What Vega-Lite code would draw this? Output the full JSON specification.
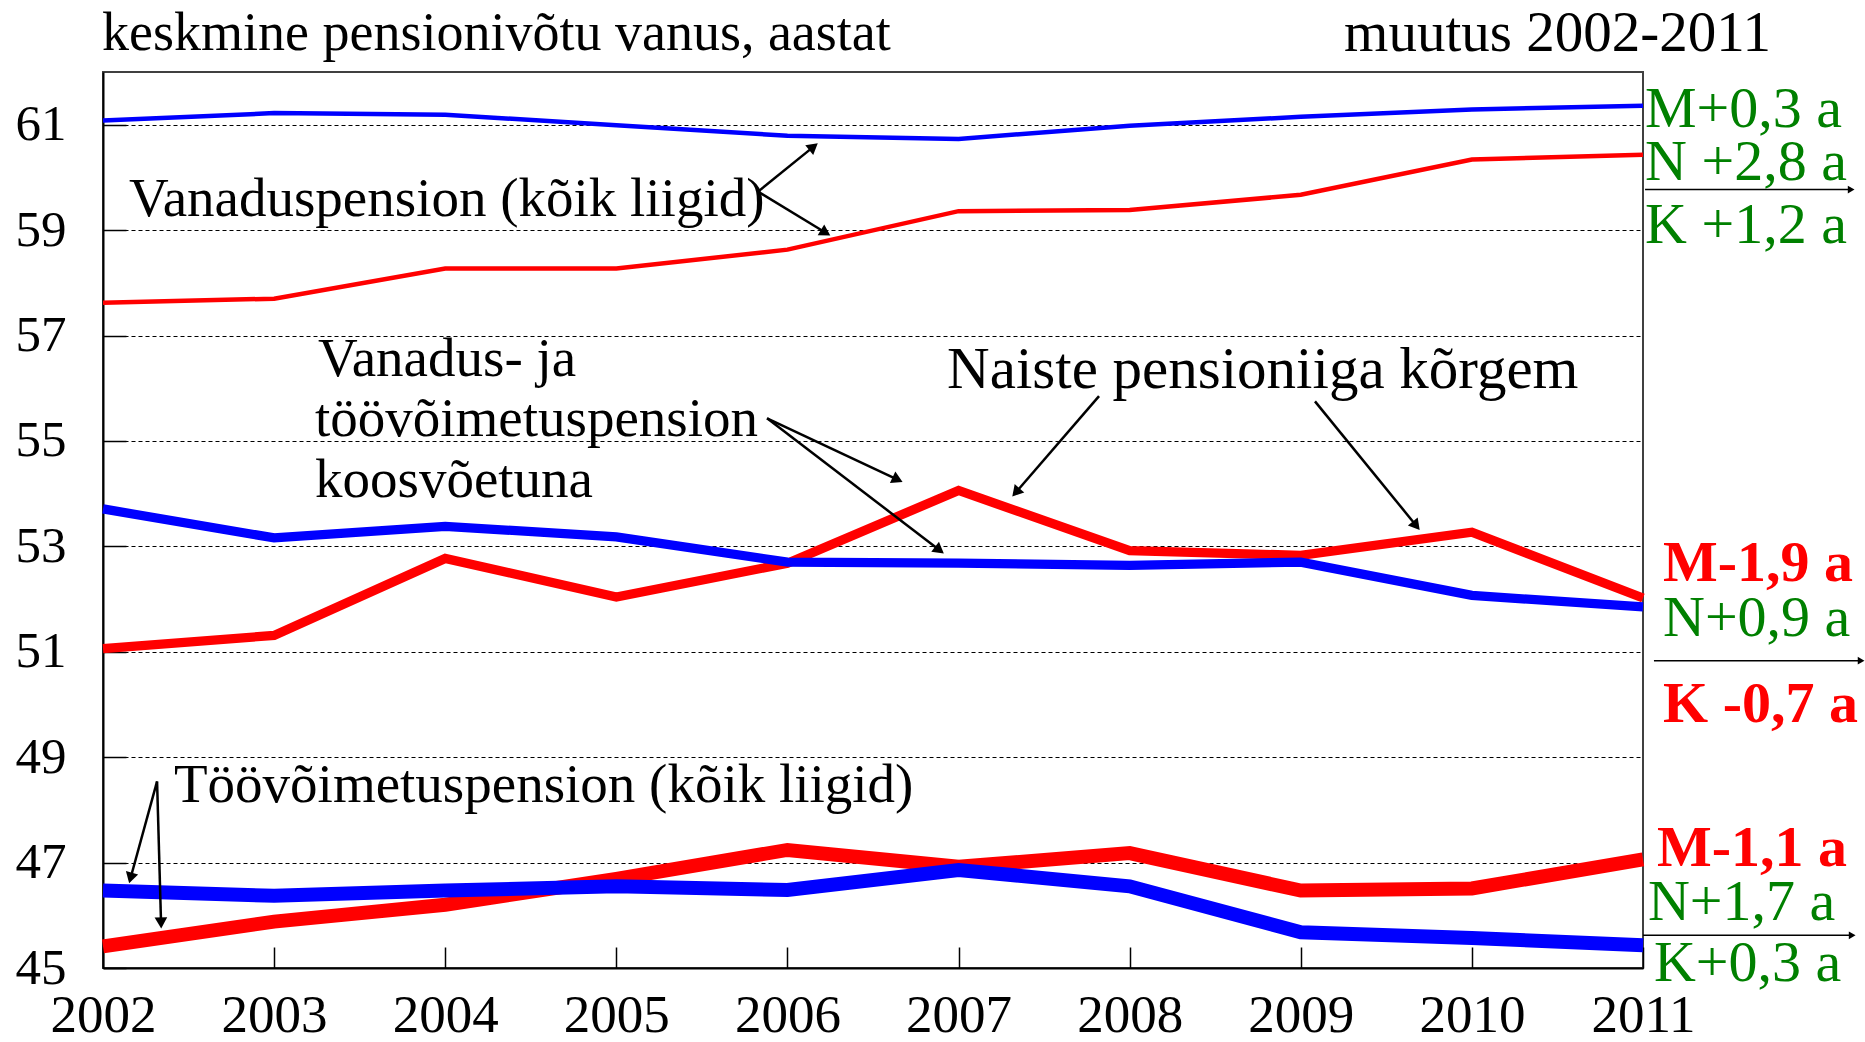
{
  "$schema": "https://vega.github.io/schema/vega-lite/v6.json",
  "width": 1540,
  "height": 896,
  "autosize": {"type": "none"},
  "padding": {"left": 103, "top": 72, "right": 222, "bottom": 74},
  "background": "white",
  "config": {
    "view": {"stroke": "#404040", "strokeWidth": 2},
    "font": "Liberation Serif",
    "text": {"font": "Liberation Serif"}
  },
  "datasets": {
    "series": [
      {"year": 2002, "age": 61.08, "pension": "vana", "sex": "M"},
      {"year": 2003, "age": 61.22, "pension": "vana", "sex": "M"},
      {"year": 2004, "age": 61.19, "pension": "vana", "sex": "M"},
      {"year": 2005, "age": 60.99, "pension": "vana", "sex": "M"},
      {"year": 2006, "age": 60.79, "pension": "vana", "sex": "M"},
      {"year": 2007, "age": 60.73, "pension": "vana", "sex": "M"},
      {"year": 2008, "age": 60.98, "pension": "vana", "sex": "M"},
      {"year": 2009, "age": 61.15, "pension": "vana", "sex": "M"},
      {"year": 2010, "age": 61.29, "pension": "vana", "sex": "M"},
      {"year": 2011, "age": 61.36, "pension": "vana", "sex": "M"},
      {"year": 2002, "age": 57.62, "pension": "vana", "sex": "N"},
      {"year": 2003, "age": 57.70, "pension": "vana", "sex": "N"},
      {"year": 2004, "age": 58.27, "pension": "vana", "sex": "N"},
      {"year": 2005, "age": 58.27, "pension": "vana", "sex": "N"},
      {"year": 2006, "age": 58.63, "pension": "vana", "sex": "N"},
      {"year": 2007, "age": 59.36, "pension": "vana", "sex": "N"},
      {"year": 2008, "age": 59.38, "pension": "vana", "sex": "N"},
      {"year": 2009, "age": 59.67, "pension": "vana", "sex": "N"},
      {"year": 2010, "age": 60.34, "pension": "vana", "sex": "N"},
      {"year": 2011, "age": 60.43, "pension": "vana", "sex": "N"},
      {"year": 2002, "age": 53.71, "pension": "koos", "sex": "M"},
      {"year": 2003, "age": 53.16, "pension": "koos", "sex": "M"},
      {"year": 2004, "age": 53.38, "pension": "koos", "sex": "M"},
      {"year": 2005, "age": 53.18, "pension": "koos", "sex": "M"},
      {"year": 2006, "age": 52.70, "pension": "koos", "sex": "M"},
      {"year": 2007, "age": 52.68, "pension": "koos", "sex": "M"},
      {"year": 2008, "age": 52.64, "pension": "koos", "sex": "M"},
      {"year": 2009, "age": 52.70, "pension": "koos", "sex": "M"},
      {"year": 2010, "age": 52.07, "pension": "koos", "sex": "M"},
      {"year": 2011, "age": 51.85, "pension": "koos", "sex": "M"},
      {"year": 2002, "age": 51.06, "pension": "koos", "sex": "N"},
      {"year": 2003, "age": 51.31, "pension": "koos", "sex": "N"},
      {"year": 2004, "age": 52.77, "pension": "koos", "sex": "N"},
      {"year": 2005, "age": 52.04, "pension": "koos", "sex": "N"},
      {"year": 2006, "age": 52.68, "pension": "koos", "sex": "N"},
      {"year": 2007, "age": 54.06, "pension": "koos", "sex": "N"},
      {"year": 2008, "age": 52.92, "pension": "koos", "sex": "N"},
      {"year": 2009, "age": 52.83, "pension": "koos", "sex": "N"},
      {"year": 2010, "age": 53.27, "pension": "koos", "sex": "N"},
      {"year": 2011, "age": 52.02, "pension": "koos", "sex": "N"},
      {"year": 2002, "age": 46.47, "pension": "toov", "sex": "M"},
      {"year": 2003, "age": 46.37, "pension": "toov", "sex": "M"},
      {"year": 2004, "age": 46.47, "pension": "toov", "sex": "M"},
      {"year": 2005, "age": 46.55, "pension": "toov", "sex": "M"},
      {"year": 2006, "age": 46.48, "pension": "toov", "sex": "M"},
      {"year": 2007, "age": 46.86, "pension": "toov", "sex": "M"},
      {"year": 2008, "age": 46.55, "pension": "toov", "sex": "M"},
      {"year": 2009, "age": 45.68, "pension": "toov", "sex": "M"},
      {"year": 2010, "age": 45.57, "pension": "toov", "sex": "M"},
      {"year": 2011, "age": 45.43, "pension": "toov", "sex": "M"},
      {"year": 2002, "age": 45.41, "pension": "toov", "sex": "N"},
      {"year": 2003, "age": 45.88, "pension": "toov", "sex": "N"},
      {"year": 2004, "age": 46.20, "pension": "toov", "sex": "N"},
      {"year": 2005, "age": 46.69, "pension": "toov", "sex": "N"},
      {"year": 2006, "age": 47.24, "pension": "toov", "sex": "N"},
      {"year": 2007, "age": 46.92, "pension": "toov", "sex": "N"},
      {"year": 2008, "age": 47.18, "pension": "toov", "sex": "N"},
      {"year": 2009, "age": 46.47, "pension": "toov", "sex": "N"},
      {"year": 2010, "age": 46.51, "pension": "toov", "sex": "N"},
      {"year": 2011, "age": 47.06, "pension": "toov", "sex": "N"}
    ],
    "arrows": [
      {"year0": 2005.828, "age0": 59.73, "year": 2006.144, "age": 60.56, "kind": "inner"},
      {"year0": 2005.828, "age0": 59.73, "year": 2006.214, "age": 58.97, "kind": "inner"},
      {"year0": 2005.881, "age0": 55.43, "year": 2006.634, "age": 54.28, "kind": "inner"},
      {"year0": 2005.881, "age0": 55.43, "year": 2006.880, "age": 52.95, "kind": "inner"},
      {"year0": 2007.821, "age0": 55.85, "year": 2007.342, "age": 54.05, "kind": "inner"},
      {"year0": 2009.083, "age0": 55.75, "year": 2009.668, "age": 53.42, "kind": "inner"},
      {"year0": 2002.316, "age0": 48.54, "year": 2002.164, "age": 46.74, "kind": "inner"},
      {"year0": 2002.316, "age0": 48.54, "year": 2002.339, "age": 45.89, "kind": "inner"},
      {"year0": 2011.012, "age0": 59.77, "year": 2012.21, "age": 59.77, "kind": "outer"},
      {"year0": 2011.064, "age0": 50.83, "year": 2012.268, "age": 50.83, "kind": "outer"},
      {"year0": 2011.0, "age0": 45.62, "year": 2012.216, "age": 45.62, "kind": "outer"}
    ],
    "notes": [
      {"label": "Vanaduspension (kõik liigid)", "year": 2002.152, "age": 59.277},
      {"label": "Vanadus- ja", "year": 2003.257, "age": 56.227},
      {"label": "töövõimetuspension", "year": 2003.239, "age": 55.091},
      {"label": "koosvõetuna", "year": 2003.239, "age": 53.936},
      {"label": "Naiste pensioniiga kõrgem", "year": 2006.933, "age": 56.0},
      {"label": "Töövõimetuspension (kõik liigid)", "year": 2002.415, "age": 48.159}
    ],
    "headings": [
      {"label": "keskmine pensionivõtu vanus, aastat", "year": 2001.994, "age": 62.42, "role": "title"},
      {"label": "muutus 2002-2011", "year": 2009.253, "age": 62.40, "role": "right"}
    ],
    "changes": [
      {"label": "M+0,3 a", "year": 2011.012, "age": 60.962, "sign": "pos"},
      {"label": "N +2,8 a", "year": 2011.012, "age": 59.958, "sign": "pos"},
      {"label": "K +1,2 a", "year": 2011.012, "age": 58.765, "sign": "pos"},
      {"label": "M-1,9 a", "year": 2011.117, "age": 52.345, "sign": "neg"},
      {"label": "N+0,9 a", "year": 2011.117, "age": 51.303, "sign": "pos"},
      {"label": "K -0,7 a", "year": 2011.117, "age": 49.674, "sign": "neg"},
      {"label": "M-1,1 a", "year": 2011.082, "age": 46.928, "sign": "neg"},
      {"label": "N+1,7 a", "year": 2011.029, "age": 45.905, "sign": "pos"},
      {"label": "K+0,3 a", "year": 2011.064, "age": 44.75, "sign": "pos"}
    ]
  },
  "encoding": {
    "x": {
      "field": "year",
      "type": "quantitative",
      "scale": {"domain": [2002, 2011], "nice": false, "zero": false},
      "axis": {
        "values": [2002, 2003, 2004, 2005, 2006, 2007, 2008, 2009, 2010, 2011],
        "format": "d",
        "title": null,
        "grid": false,
        "labelFont": "Liberation Serif",
        "labelFontSize": 53,
        "labelColor": "black",
        "labelFlush": false,
        "labelOverlap": false,
        "tickSize": -21,
        "tickColor": "black",
        "tickWidth": 1.5,
        "domainColor": "black",
        "domainWidth": 2,
        "labelPadding": 42
      }
    },
    "y": {
      "field": "age",
      "type": "quantitative",
      "scale": {"domain": [45, 62], "nice": false, "zero": false},
      "axis": {
        "values": [45, 47, 49, 51, 53, 55, 57, 59, 61],
        "title": null,
        "grid": true,
        "gridColor": "black",
        "gridDash": [4, 3],
        "gridWidth": 1.2,
        "gridOpacity": 1,
        "labelFont": "Liberation Serif",
        "labelFontSize": 51,
        "labelColor": "black",
        "labelFlush": false,
        "labelOverlap": false,
        "tickSize": -23,
        "tickColor": "black",
        "tickWidth": 1.5,
        "domainColor": "black",
        "domainWidth": 2,
        "labelPadding": 60
      }
    }
  },
  "layer": [
    {
      "data": {"name": "series"},
      "transform": [{"filter": "datum.sex === 'N'"}],
      "mark": {"type": "line", "strokeJoin": "miter", "strokeCap": "butt"},
      "encoding": {
        "detail": {"field": "pension"},
        "color": {"field": "sex", "type": "nominal", "scale": {"domain": ["M", "N"], "range": ["#0000FF", "#FF0000"]}, "legend": null},
        "strokeWidth": {"field": "pension", "type": "nominal", "scale": {"domain": ["vana", "koos", "toov"], "range": [4.5, 14, 9]}, "legend": null}
      }
    },
    {
      "data": {"name": "series"},
      "transform": [{"filter": "datum.sex === 'M'"}],
      "mark": {"type": "line", "strokeJoin": "miter", "strokeCap": "butt"},
      "encoding": {
        "detail": {"field": "pension"},
        "color": {"field": "sex", "type": "nominal", "scale": {"domain": ["M", "N"], "range": ["#0000FF", "#FF0000"]}, "legend": null},
        "strokeWidth": {"field": "pension", "type": "nominal", "scale": {"domain": ["vana", "koos", "toov"], "range": [4.5, 14, 9]}, "legend": null}
      }
    },
    {
      "data": {"name": "arrows"},
      "transform": [{"filter": "datum.kind === 'inner'"}],
      "mark": {"type": "rule", "color": "black", "strokeWidth": 2.5},
      "encoding": {"x2": {"field": "year0"}, "y2": {"field": "age0"}}
    },
    {
      "data": {"name": "arrows"},
      "transform": [{"filter": "datum.kind === 'outer'"}],
      "mark": {"type": "rule", "color": "black", "strokeWidth": 1.5},
      "encoding": {"x2": {"field": "year0"}, "y2": {"field": "age0"}}
    },
    {
      "data": {"name": "arrows"},
      "transform": [
        {"filter": "datum.kind === 'inner'"},
        {"calculate": "(atan2((datum.year - datum.year0) * 171.11, (datum.age - datum.age0) * 52.706) * 180 / PI + 360) % 360", "as": "heading"}
      ],
      "mark": {"type": "point", "shape": "triangle", "filled": true, "color": "black", "opacity": 1, "size": 160},
      "encoding": {"angle": {"field": "heading", "type": "quantitative", "scale": null}}
    },
    {
      "data": {"name": "arrows"},
      "transform": [
        {"filter": "datum.kind === 'outer'"},
        {"calculate": "(atan2((datum.year - datum.year0) * 171.11, (datum.age - datum.age0) * 52.706) * 180 / PI + 360) % 360", "as": "heading"}
      ],
      "mark": {"type": "point", "shape": "triangle", "filled": true, "color": "black", "opacity": 1, "size": 60},
      "encoding": {"angle": {"field": "heading", "type": "quantitative", "scale": null}}
    },
    {
      "data": {"name": "notes"},
      "transform": [{"filter": "datum.label !== 'Naiste pensioniiga kõrgem'"}],
      "mark": {"type": "text", "align": "left", "baseline": "alphabetic", "fontSize": 55, "color": "black", "font": "Liberation Serif"},
      "encoding": {"text": {"field": "label"}}
    },
    {
      "data": {"name": "notes"},
      "transform": [{"filter": "datum.label === 'Naiste pensioniiga kõrgem'"}],
      "mark": {"type": "text", "align": "left", "baseline": "alphabetic", "fontSize": 59, "color": "black", "font": "Liberation Serif"},
      "encoding": {"text": {"field": "label"}}
    },
    {
      "data": {"name": "headings"},
      "transform": [{"filter": "datum.role === 'title'"}],
      "mark": {"type": "text", "align": "left", "baseline": "alphabetic", "fontSize": 54, "color": "black", "font": "Liberation Serif"},
      "encoding": {"text": {"field": "label"}}
    },
    {
      "data": {"name": "headings"},
      "transform": [{"filter": "datum.role === 'right'"}],
      "mark": {"type": "text", "align": "left", "baseline": "alphabetic", "fontSize": 57, "color": "black", "font": "Liberation Serif"},
      "encoding": {"text": {"field": "label"}}
    },
    {
      "data": {"name": "changes"},
      "transform": [{"filter": "datum.sign === 'pos'"}],
      "mark": {"type": "text", "align": "left", "baseline": "alphabetic", "fontSize": 58, "color": "#008000", "font": "Liberation Serif"},
      "encoding": {"text": {"field": "label"}}
    },
    {
      "data": {"name": "changes"},
      "transform": [{"filter": "datum.sign === 'neg'"}],
      "mark": {"type": "text", "align": "left", "baseline": "alphabetic", "fontSize": 58, "fontWeight": "bold", "color": "#FF0000", "font": "Liberation Serif"},
      "encoding": {"text": {"field": "label"}}
    }
  ]
}
